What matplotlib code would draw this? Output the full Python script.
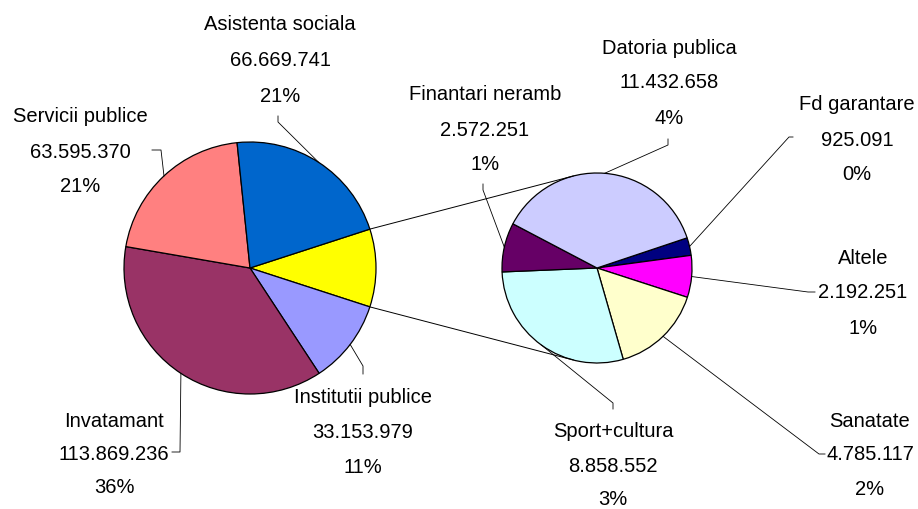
import matplotlib
matplotlib.use("Agg")
import matplotlib.pyplot as plt
from matplotlib import font_manager
import numpy as np

# ---------------- data ----------------
main_labels = ["Institutii publice", "Invatamant", "Servicii publice", "Asistenta sociala"]
main_values = [33153979, 113869236, 63595370, 66669741]
main_pct = ["11%", "36%", "21%", "21%"]
main_colors = ["#9999FF", "#993366", "#FF8080", "#0066CC"]
other_color = "#FFFF00"

sec_labels = ["Fd garantare", "Altele", "Sanatate", "Sport+cultura", "Finantari neramb", "Datoria publica"]
sec_values = [925091, 2192251, 4785117, 8858552, 2572251, 11432658]
sec_pct = ["0%", "1%", "2%", "3%", "1%", "4%"]
sec_colors = ["#000080", "#FF00FF", "#FFFFCC", "#CCFFFF", "#660066", "#CCCCFF"]

# ---------------- layout (image pixel coords, y down) ----------------
W, H = 918, 510
MAIN_C, MAIN_R = (250, 269), 126
SEC_C, SEC_R = (597, 269), 95
SEC_START = 18.5
SERIES_ANG = 104.5

# label centre x, line y's, leader anchor, leader knee
label_layout = {
    "Asistenta sociala": (280, (25, 61, 96), (278, 117), (278, 123)),
    "Servicii publice": (80, (117, 152, 186), (152, 151), (161, 151)),
    "Invatamant": (114, (422, 455, 488), (172, 453), (180, 453)),
    "Institutii publice": (363, (398, 433, 468), (363, 375), (363, 367)),
    "Datoria publica": (669, (48, 83, 118), (668, 140), (668, 146)),
    "Finantari neramb": (485, (95, 130, 165), (483, 185), (483, 191)),
    "Fd garantare": (857, (105, 140, 175), (793, 138), (789, 138)),
    "Altele": (863, (258, 293, 328), (815, 293), (808, 293)),
    "Sanatate": (870, (422, 455, 490), (825, 455), (819, 455)),
    "Sport+cultura": (613, (432, 467, 500), (613, 410), (613, 404)),
}

installed = {f.name for f in font_manager.fontManager.ttflist}
if "Liberation Sans Narrow" in installed:
    FONT = ["Liberation Sans Narrow", "DejaVu Sans"]
    FS = 16.5
else:
    FONT = ["Liberation Sans", "DejaVu Sans"]
    FS = 14.5


def P(x, y):
    return (x, H - y)


def fmt(v):
    return f"{v:,}".replace(",", ".")


fig = plt.figure(figsize=(W / 100, H / 100), dpi=100)
ax = fig.add_axes([0, 0, 1, 1])

other_value = sum(sec_values)
total = other_value + sum(main_values)
start_main = 180.0 * other_value / total

wedge_kw = dict(edgecolor="black", linewidth=0.9)
main_w, _ = ax.pie([other_value] + main_values, colors=[other_color] + main_colors,
                   startangle=start_main, counterclock=False,
                   center=P(*MAIN_C), radius=MAIN_R, wedgeprops=wedge_kw)
sec_w, _ = ax.pie(sec_values, colors=sec_colors, startangle=SEC_START, counterclock=False,
                  center=P(*SEC_C), radius=SEC_R, wedgeprops=wedge_kw)

ax.set_xlim(0, W)
ax.set_ylim(0, H)
ax.set_aspect("equal")
ax.axis("off")

# series lines from the "other" slice to the secondary pie
ow = main_w[0]
mc = np.array(P(*MAIN_C))
sc = np.array(P(*SEC_C))
for a_main, a_sec in ((ow.theta2, SERIES_ANG), (ow.theta1, -SERIES_ANG)):
    p1 = mc + MAIN_R * np.array([np.cos(np.radians(a_main)), np.sin(np.radians(a_main))])
    p2 = sc + SEC_R * np.array([np.cos(np.radians(a_sec)), np.sin(np.radians(a_sec))])
    ax.plot([p1[0], p2[0]], [p1[1], p2[1]], color="black", lw=0.7, zorder=1)


def draw_labels(wedges, labels, values, pcts, center, radius):
    c = np.array(P(*center))
    for w, lab, val, pct in zip(wedges, labels, values, pcts):
        cx, ys, anchor, knee = label_layout[lab]
        for txt, y in zip((lab, fmt(val), pct), ys):
            ax.text(cx, H - y, txt, ha="center", va="center", fontsize=FS,
                    family=FONT, color="black")
        mid = np.radians((w.theta1 + w.theta2) / 2)
        pe = c + radius * np.array([np.cos(mid), np.sin(mid)])
        xs = [anchor[0], knee[0], pe[0]]
        yy = [H - anchor[1], H - knee[1], pe[1]]
        ax.plot(xs, yy, color="black", lw=0.6, zorder=3)


draw_labels(main_w[1:], main_labels, main_values, main_pct, MAIN_C, MAIN_R)
draw_labels(sec_w, sec_labels, sec_values, sec_pct, SEC_C, SEC_R)

fig.savefig("out.png", dpi=100, facecolor="white")
